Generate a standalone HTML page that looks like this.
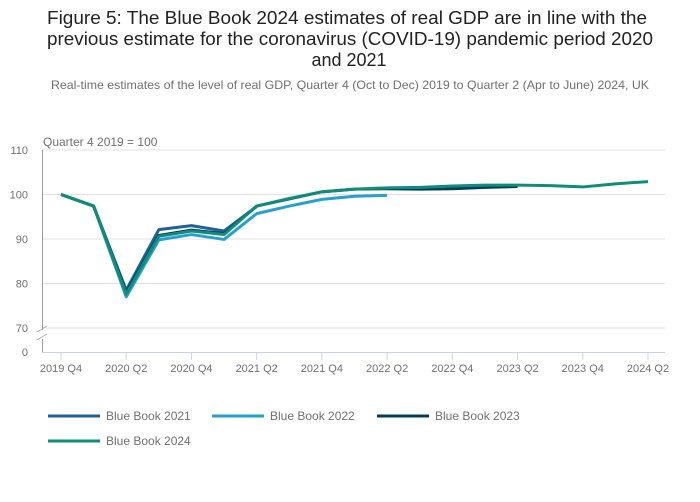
<!DOCTYPE html>
<html><head><meta charset="utf-8"><style>
body{margin:0;background:#fff;}
svg{display:block;font-family:"Liberation Sans",sans-serif;}
</style></head><body>
<svg id="chart" width="700" height="502" viewBox="0 0 700 502">
<g fill="#222" font-size="18">
<text x="347" y="24" text-anchor="middle" textLength="600" lengthAdjust="spacingAndGlyphs">Figure 5: The Blue Book 2024 estimates of real GDP are in line with the</text>
<text x="350" y="45" text-anchor="middle" textLength="606" lengthAdjust="spacingAndGlyphs">previous estimate for the coronavirus (COVID-19) pandemic period 2020</text>
<text x="349" y="66" text-anchor="middle">and 2021</text>
</g>
<text x="350" y="89" text-anchor="middle" font-size="12" fill="#707070" textLength="598" lengthAdjust="spacingAndGlyphs">Real-time estimates of the level of real GDP, Quarter 4 (Oct to Dec) 2019 to Quarter 2 (Apr to June) 2024, UK</text>
<text x="43" y="146" font-size="12" fill="#707070">Quarter 4 2019 = 100</text>
<g id="grid"></g><g id="axes"></g><g id="series"></g><g id="legend"></g>
</svg>
<script>
const categories=["2019 Q4","2020 Q1","2020 Q2","2020 Q3","2020 Q4","2021 Q1","2021 Q2","2021 Q3","2021 Q4","2022 Q1","2022 Q2","2022 Q3","2022 Q4","2023 Q1","2023 Q2","2023 Q3","2023 Q4","2024 Q1","2024 Q2"];
const bb2021=[100,97.4,78.5,92.1,93.0,91.8,97.3];
const bb2022=[100,97.4,77.0,89.8,91.0,89.9,95.7,97.4,98.9,99.6,99.8];
const bb2023=[100,97.4,78.0,90.8,92.0,91.2,97.4,99.0,100.6,101.2,101.3,101.2,101.3,101.6,101.8];
const bb2024=[100,97.4,77.6,90.6,91.8,91.0,97.4,99.1,100.6,101.2,101.5,101.6,101.9,102.1,102.1,102.0,101.7,102.4,102.9];
const yTicks=[110,100,90,80,70];
const seriesNames=["Blue Book 2021","Blue Book 2022","Blue Book 2023","Blue Book 2024"];
const seriesColors=["#206095","#27a0cc","#003c57","#118c7b"];
const NS="http://www.w3.org/2000/svg";
function xs(i){return 61+i*(648-61)/18;}
function ys(v){return v<=0?352:194.5-(v-100)*4.45;}
function mk(t,a,p){const e=document.createElementNS(NS,t);for(const k in a)e.setAttribute(k,a[k]);p.appendChild(e);return e;}
const grid=document.getElementById('grid'),axes=document.getElementById('axes'),ser=document.getElementById('series'),leg=document.getElementById('legend');
yTicks.forEach(v=>{const l=mk('line',{x1:42,x2:665,y1:ys(v),y2:ys(v),stroke:'#e2e2e2','stroke-width':1},grid);


const t=mk('text',{x:28,y:ys(v)+4,'font-size':11,fill:'#707070','text-anchor':'end'},axes);t.textContent=v;

});
const z=mk('text',{x:28,y:356,'font-size':11,fill:'#707070','text-anchor':'end'},axes);z.textContent='0';


const ya=mk('path',{d:'M42.5 150V330M42.5 339V352',stroke:'#999',fill:'none'},axes);


const br=mk('path',{d:'M37 332L47 326M37 340L47 334',stroke:'#aaa',fill:'none'},axes);


const xa=mk('line',{x1:42,x2:665,y1:352.5,y2:352.5,stroke:'#c8d4e6'},axes);


categories.forEach((c,i)=>{if(i%2)return;
const tk=mk('line',{x1:xs(i),x2:xs(i),y1:352,y2:360,stroke:'#c8d4e6'},axes);


const t=mk('text',{x:xs(i),y:372,'font-size':11,fill:'#707070','text-anchor':'middle'},axes);t.textContent=c;

});
[bb2021,bb2022,bb2023,bb2024].forEach((d,k)=>{
const p=mk('polyline',{points:d.map((v,i)=>xs(i)+','+ys(v)).join(' '),fill:'none',stroke:seriesColors[k],'stroke-width':3,'stroke-linejoin':'round'},ser);

});
const lpos=[[48,416],[212,416],[377,416],[48,441]];
seriesNames.forEach((n,k)=>{const [x,y]=lpos[k];
const g=mk('g',{},leg);


mk('line',{x1:x,x2:x+52,y1:y,y2:y,stroke:seriesColors[k],'stroke-width':3},g);
const t=mk('text',{x:x+58,y:y+4,'font-size':12,fill:'#707070'},g);t.textContent=n;});
</script>
</body></html>
